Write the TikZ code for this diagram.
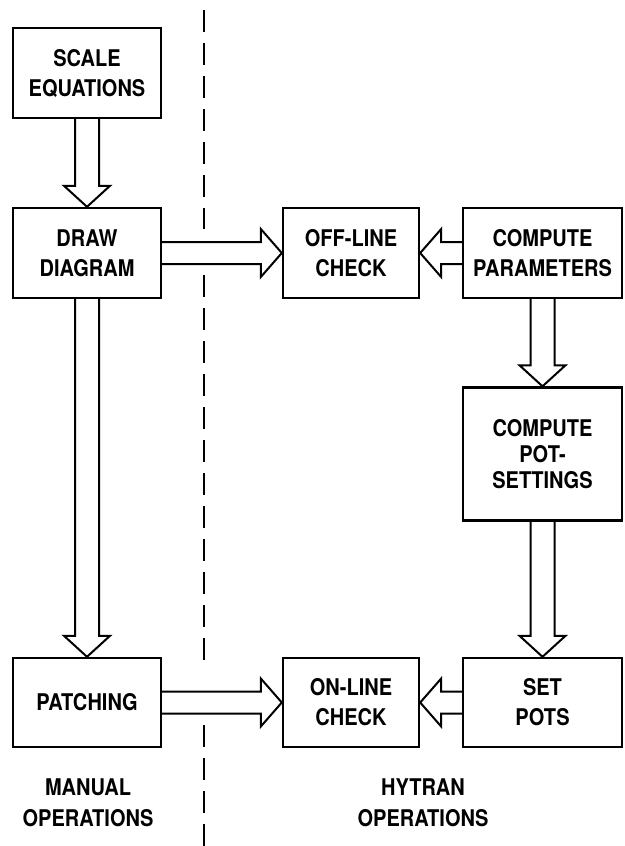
\documentclass[tikz,border=0pt]{standalone}
\usepackage{fontspec}
\usetikzlibrary{calc}
\newfontfamily\lblfont{TeX Gyre Heros}[FakeStretch=0.87]
\newcommand\blockdown[2]{%
  \draw[arr] ($(#1.south)+(-12,0)$) -- ($(#2.north)+(-12,-21)$) -- ($(#2.north)+(-23,-21)$) -- (#2.north)
    -- ($(#2.north)+(23,-21)$) -- ($(#2.north)+(12,-21)$) -- ($(#1.south)+(12,0)$);}
\newcommand\blockright[2]{%
  \draw[arr] ($(#1.east)+(0,-11)$) -- ($(#2.west)+(-21,-11)$) -- ($(#2.west)+(-21,-24)$) -- (#2.west)
    -- ($(#2.west)+(-21,24)$) -- ($(#2.west)+(-21,11)$) -- ($(#1.east)+(0,11)$);}
\newcommand\blockleft[2]{%
  \draw[arr] ($(#1.west)+(0,-11)$) -- ($(#2.east)+(21,-11)$) -- ($(#2.east)+(21,-24)$) -- (#2.east)
    -- ($(#2.east)+(21,24)$) -- ($(#2.east)+(21,11)$) -- ($(#1.west)+(0,11)$);}
\begin{document}
\begin{tikzpicture}[x=1pt,y=-1pt,
  box/.style={draw,line width=2.4pt,align=center,inner sep=0pt,
    font=\lblfont\bfseries\fontsize{23}{30}\selectfont},
  lbl/.style={align=center,inner sep=0pt,font=\lblfont\bfseries\fontsize{23}{31}\selectfont},
  arr/.style={line width=2pt,line join=miter},
  sep/.style={line width=2.2pt,dash pattern=on 22pt off 11pt}]
\useasboundingbox (0,0) rectangle (624,846);
% boxes
\node[box,minimum width=148pt,minimum height=90pt] (se) at (87,73) {SCALE\\EQUATIONS};
\node[box,minimum width=148pt,minimum height=90pt] (dd) at (87,253) {DRAW\\DIAGRAM};
\node[box,minimum width=148pt,minimum height=89pt] (pa) at (87,702.5) {PATCHING};
\node[box,minimum width=136pt,minimum height=90pt] (oc) at (351,253) {OFF-LINE\\CHECK};
\node[box,minimum width=136pt,minimum height=89pt] (on) at (351,702.5) {ON-LINE\\CHECK};
\node[box,minimum width=159pt,minimum height=90pt] (cp) at (542.5,253) {COMPUTE\\PARAMETERS};
\node[box,minimum width=159pt,minimum height=133pt,font=\lblfont\bfseries\fontsize{23}{26}\selectfont] (cs) at (542.5,454) {COMPUTE\\POT-\\SETTINGS};
\node[box,minimum width=159pt,minimum height=89pt] (sp) at (542.5,702.5) {SET\\POTS};
% labels
\node[lbl] (ml) at (88,802.5) {MANUAL\\OPERATIONS};
\node[lbl] (hl) at (423,802.5) {HYTRAN\\OPERATIONS};
% separator
\draw[sep] (204,10) -- (204,229);
\draw[sep] (204,275) -- (204,669);
\draw[sep] (204,725) -- (204,846);
% block arrows
\blockdown{se}{dd}
\blockdown{dd}{pa}
\blockdown{cp}{cs}
\blockdown{cs}{sp}
\blockright{dd}{oc}
\blockright{pa}{on}
\blockleft{cp}{oc}
\blockleft{sp}{on}
\end{tikzpicture}
\end{document}
